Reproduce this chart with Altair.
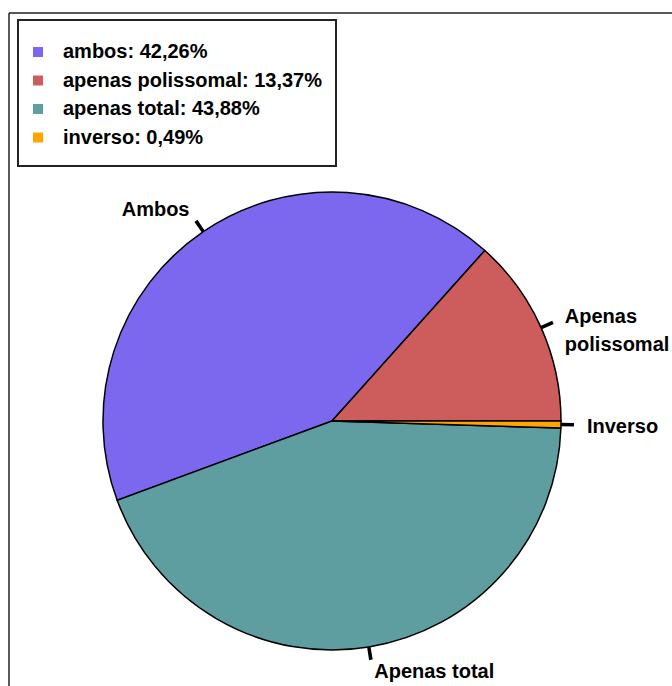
import math
import altair as alt
import pandas as pd

# ---- data ----
categorias = ["ambos", "apenas polissomal", "apenas total", "inverso"]
valores = [42.26, 13.37, 43.88, 0.49]
ordem_no_circulo = [2, 3, 1, 0]          # clockwise order starting at 3 o'clock
rotulos = ["Ambos", "Apenas\npolissomal", "Apenas total", "Inverso"]
legendas = ["ambos: 42,26%", "apenas polissomal: 13,37%",
            "apenas total: 43,88%", "inverso: 0,49%"]
cores = ["#7B68EE", "#CD5C5C", "#5F9EA0", "#FFA500"]

df = pd.DataFrame({
    "categoria": categorias,
    "valor": valores,
    "ordem": ordem_no_circulo,
    "rotulo": rotulos,
    "legenda": legendas,
})

# ---- layout / style ----
CX, CY, R = 332, 421, 229
FONT = "Liberation Sans"
theta_scale = alt.Scale(domain=[0, 100],
                        range=[math.pi / 2, math.pi / 2 + 2 * math.pi])

base = alt.Chart(df).transform_window(
    fim="sum(valor)", sort=[alt.SortField("ordem")]
).transform_calculate(
    inicio="datum.fim - datum.valor",
    meio="datum.fim - datum.valor / 2",
)

pie = base.mark_arc(radius=R, stroke="black", strokeWidth=1.5).encode(
    theta=alt.Theta("inicio:Q", scale=theta_scale),
    theta2="fim:Q",
    color=alt.Color(
        "legenda:N",
        scale=alt.Scale(domain=legendas, range=cores),
        legend=alt.Legend(
            title=None, orient="none", legendX=28, legendY=42,
            direction="vertical", symbolType="square", symbolSize=100,
            symbolStrokeWidth=0, symbolOpacity=1,
            labelFont=FONT, labelFontSize=20, labelFontWeight="bold",
            labelColor="black", labelOffset=15, labelLimit=500,
            rowPadding=8.5, padding=0,
        ),
    ),
    x=alt.value(CX),
    y=alt.value(CY),
)

leaders = base.transform_calculate(
    a="datum.meio - 0.12", b="datum.meio + 0.12"
).mark_arc(radius=R + 13, radius2=R, color="black").encode(
    theta=alt.Theta("a:Q", scale=theta_scale),
    theta2="b:Q",
    x=alt.value(CX),
    y=alt.value(CY),
)

label_style = {
    "ambos": dict(radius=250, align="right", baseline="alphabetic", dx=-2, dy=2),
    "apenas polissomal": dict(radius=255, align="left", baseline="middle"),
    "apenas total": dict(radius=244, align="left", baseline="top", dx=3),
    "inverso": dict(radius=255, align="left", baseline="middle", dy=2),
}

texts = []
for cat, st in label_style.items():
    texts.append(
        base.transform_filter(alt.datum.categoria == cat).mark_text(
            font=FONT, fontSize=20, fontWeight="bold", color="black",
            lineBreak="\n", lineHeight=28, **st
        ).encode(
            theta=alt.Theta("meio:Q", scale=theta_scale),
            text="rotulo:N",
            x=alt.value(CX),
            y=alt.value(CY),
        )
    )

one = pd.DataFrame({"k": [0]})
frame_top = alt.Chart(one).mark_rule(color="#222", strokeWidth=1.5).encode(
    x=alt.value(9), x2=alt.value(672), y=alt.value(13))
frame_left = alt.Chart(one).mark_rule(color="#222", strokeWidth=1.5).encode(
    x=alt.value(9), y=alt.value(13), y2=alt.value(686))
legend_box = alt.Chart(one).mark_rect(
    fill="white", stroke="#222", strokeWidth=2
).encode(x=alt.value(18), x2=alt.value(336), y=alt.value(20), y2=alt.value(166))

chart = alt.layer(frame_top, frame_left, legend_box, pie, leaders, *texts).properties(
    width=672, height=686, padding=0,
    autosize=alt.AutoSizeParams(type="none"),
    background="white",
).configure_view(strokeWidth=0)

chart.save("out.html", embed_options={"renderer": "svg", "actions": False})
